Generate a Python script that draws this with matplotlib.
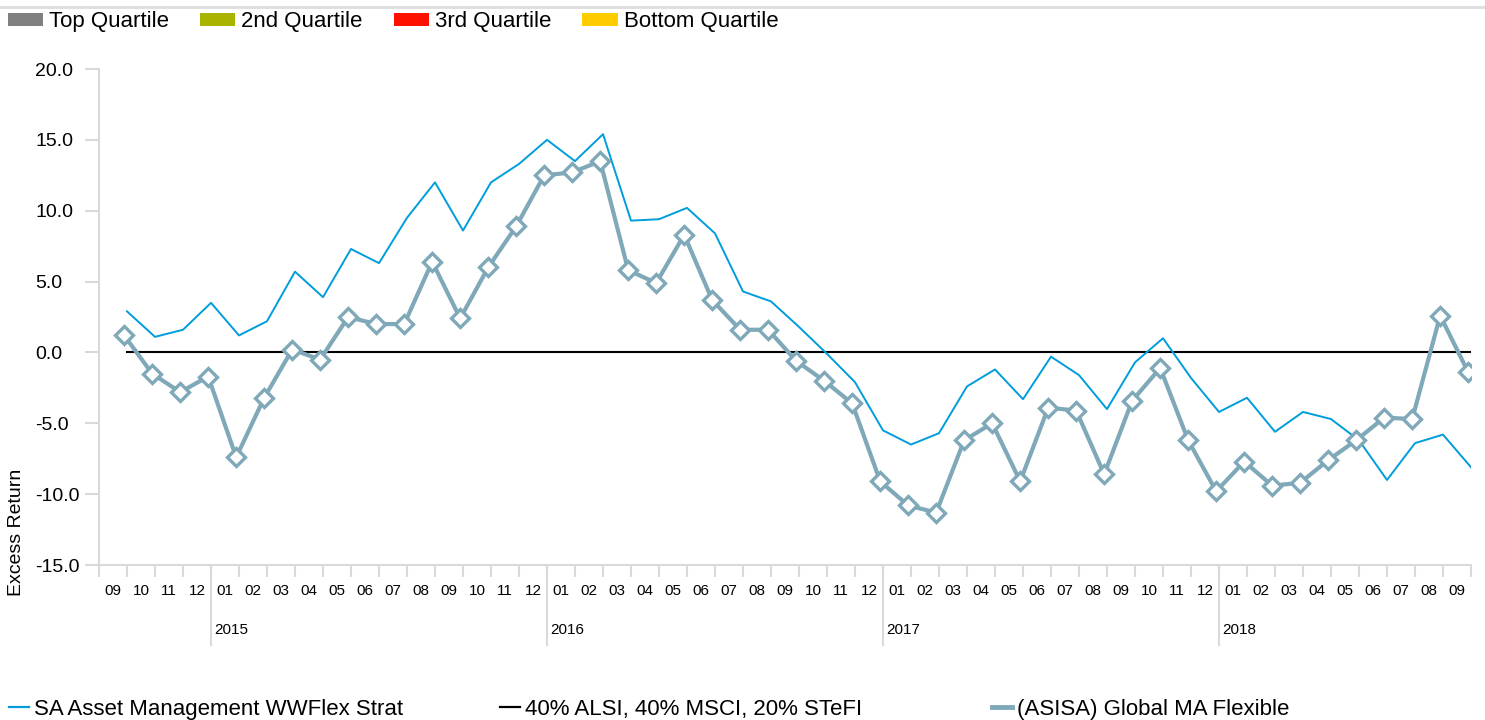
import matplotlib
matplotlib.use("Agg")
import matplotlib.pyplot as plt
import matplotlib.transforms as mtransforms
from matplotlib.lines import Line2D
from matplotlib.patches import Patch
from matplotlib.ticker import FormatStrFormatter
import numpy as np

plt.rcParams['font.family'] = ['Liberation Sans', 'DejaVu Sans']

# ---------------- data ----------------
months = ["09", "10", "11", "12",
          "01", "02", "03", "04", "05", "06", "07", "08", "09", "10", "11", "12",
          "01", "02", "03", "04", "05", "06", "07", "08", "09", "10", "11", "12",
          "01", "02", "03", "04", "05", "06", "07", "08", "09", "10", "11", "12",
          "01", "02", "03", "04", "05", "06", "07", "08", "09"]
years = ["2015", "2016", "2017", "2018"]

sa_strat = [2.9, 1.1, 1.6, 3.5, 1.2, 2.2, 5.7, 3.9, 7.3, 6.3,
            9.5, 12.0, 8.6, 12.0, 13.3, 15.0, 13.5, 15.4, 9.3, 9.4,
            10.2, 8.4, 4.3, 3.6, 1.8, -0.1, -2.1, -5.5, -6.5, -5.7,
            -2.4, -1.2, -3.3, -0.3, -1.6, -4.0, -0.7, 1.0, -1.8, -4.2,
            -3.2, -5.6, -4.2, -4.7, -6.2, -9.0, -6.4, -5.8, -8.1]

benchmark = [0.0] * 49

asisa_flex = [1.2, -1.5, -2.8, -1.7, -7.4, -3.2, 0.2, -0.5, 2.5, 2.0,
              2.0, 6.4, 2.4, 6.0, 8.9, 12.5, 12.7, 13.5, 5.8, 4.9,
              8.3, 3.7, 1.6, 1.6, -0.6, -2.0, -3.6, -9.1, -10.8, -11.3,
              -6.2, -5.0, -9.1, -3.9, -4.1, -8.6, -3.4, -1.1, -6.2, -9.8,
              -7.7, -9.4, -9.2, -7.6, -6.2, -4.6, -4.7, 2.6, -1.4]

quartile_labels = ["Top Quartile", "2nd Quartile", "3rd Quartile", "Bottom Quartile"]
quartile_colors = ["#808080", "#A8B400", "#FF1100", "#FFCC00"]

series_labels = ["SA Asset Management WWFlex Strat",
                 "40% ALSI, 40% MSCI, 20% STeFI",
                 "(ASISA) Global MA Flexible"]

# ---------------- styling ----------------
W, H = 1485, 720
BLUE = "#009DDC"
GREYBLUE = "#7FA8B9"
AXIS_GREY = "#D9D9D9"

fig = plt.figure(figsize=(W / 100, H / 100), dpi=100)
ax = fig.add_axes([99 / W, (H - 565) / H, 1372 / W, 496 / H])

x = np.arange(len(months))
ax.plot(x, benchmark, color="#000000", lw=1.5, zorder=2)
ax.plot(x, sa_strat, color=BLUE, lw=1.4, zorder=3)
ax.plot(x - 0.1, asisa_flex, color=GREYBLUE, lw=3.0, marker="D", ms=9,
        mfc="white", mec=GREYBLUE, mew=2.4, zorder=4)

ax.set_xlim(-1, len(months) - 1)
ax.set_ylim(-15, 20)

# spines
for s in ["top", "right"]:
    ax.spines[s].set_visible(False)
for s in ["left", "bottom"]:
    ax.spines[s].set_color(AXIS_GREY)
    ax.spines[s].set_linewidth(1.5)

# y axis (labels left-aligned at a common x)
ax.set_yticks(np.arange(-15, 20.1, 5))
ax.yaxis.set_major_formatter(FormatStrFormatter("%.1f"))
ax.tick_params(axis="y", length=10, width=1.5, color=AXIS_GREY, pad=36,
               labelsize=14, labelcolor="#000000")
for lab in ax.get_yticklabels():
    lab.set_horizontalalignment("left")

# x axis: labels between ticks, ticks at points
ax.set_xticks(x - 0.5)
ax.set_xticklabels(months)
ax.set_xticks(np.arange(-1, len(months)), minor=True)
ax.tick_params(axis="x", which="major", length=0, pad=13.5, labelsize=11,
               labelcolor="#000000")
ax.tick_params(axis="x", which="minor", length=8.6, width=1.5, color=AXIS_GREY)

# year dividers and labels
trans = mtransforms.blended_transform_factory(ax.transData, ax.transAxes)
trans_off = mtransforms.offset_copy(trans, fig=fig, x=3, y=0, units="dots")
dec_idx = [i for i, m in enumerate(months) if m == "12"]
for idx, yr in zip(dec_idx, years):
    ax.plot([idx, idx], [0, -80 / 496], transform=trans, clip_on=False,
            color=AXIS_GREY, lw=1.5, zorder=1)
    ax.text(idx, -(630 - 565) / 496, yr, transform=trans_off, ha="left",
            va="center", fontsize=11, color="#000000")

# y label
fig.text(17 / W, 1 - 532 / H, "Excess Return", rotation=90, ha="center",
         va="center", fontsize=14, color="#000000")

# top rule
fig.add_artist(Line2D([0, 1], [1 - 7 / H, 1 - 7 / H], transform=fig.transFigure,
                      color="#DDDDDD", lw=2))

# top legend (quartiles)
fs = 16
qh = [Patch(facecolor=c, edgecolor="none") for c in quartile_colors]
fig.legend(handles=qh, labels=quartile_labels, loc="center left",
           bbox_to_anchor=(8 / W, 1 - 22 / H), ncol=4, frameon=False,
           fontsize=fs, handlelength=1.58, handleheight=0.5,
           handletextpad=0.27, columnspacing=1.4, borderpad=0,
           borderaxespad=0)

# bottom legend (series), one entry each
handles = [Line2D([], [], color=BLUE, lw=1.6),
           Line2D([], [], color="#000000", lw=1.6),
           Line2D([], [], color=GREYBLUE, lw=3.5)]
xpos = [9, 500, 992]
for h, lab, xp in zip(handles, series_labels, xpos):
    fig.legend(handles=[h], labels=[lab], loc="center left",
               bbox_to_anchor=(xp / W, 1 - 709 / H), frameon=False,
               fontsize=fs, handlelength=0.92, handletextpad=0.2,
               borderpad=0, borderaxespad=0)

fig.savefig("out.png", dpi=100)
